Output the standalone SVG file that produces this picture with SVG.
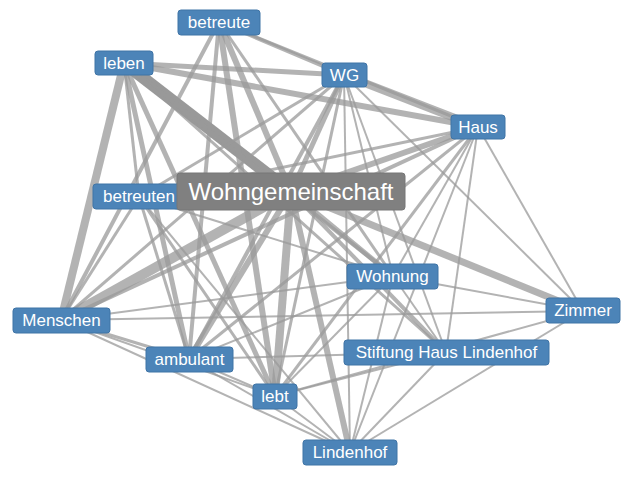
<svg xmlns="http://www.w3.org/2000/svg" width="640" height="480" viewBox="0 0 640 480">
<style>
.e{stroke:#999;stroke-opacity:.75;fill:none}
.n rect{fill:#4c84b8;stroke:#3f74a6;stroke-width:1}
.n text{fill:#fff;font-family:"Liberation Sans",Arial,sans-serif;font-size:17px;text-anchor:middle;dominant-baseline:central}
#n-wohngemeinschaft rect{fill:#808080;stroke:#777}
#n-wohngemeinschaft text{font-size:24px}
</style>
<rect width="640" height="480" fill="#fff"/>
<g id="connectors">
<line class="e" x1="124" y1="63" x2="344" y2="75" stroke-width="5"/>
<line class="e" x1="124" y1="63" x2="478" y2="127" stroke-width="6"/>
<line class="e" x1="124" y1="63" x2="291" y2="192" stroke-width="12" style="stroke:#777"/>
<line class="e" x1="124" y1="63" x2="61" y2="320" stroke-width="8"/>
<line class="e" x1="124" y1="63" x2="189" y2="359" stroke-width="5"/>
<line class="e" x1="124" y1="63" x2="275" y2="396" stroke-width="5"/>
<line class="e" x1="124" y1="63" x2="393" y2="276" stroke-width="4"/>
<line class="e" x1="124" y1="63" x2="139" y2="197" stroke-width="3"/>
<line class="e" x1="124" y1="63" x2="446" y2="352" stroke-width="3"/>
<line class="e" x1="219" y1="22" x2="344" y2="75" stroke-width="4"/>
<line class="e" x1="219" y1="22" x2="478" y2="127" stroke-width="3"/>
<line class="e" x1="219" y1="22" x2="61" y2="320" stroke-width="4"/>
<line class="e" x1="219" y1="22" x2="189" y2="359" stroke-width="4"/>
<line class="e" x1="219" y1="22" x2="275" y2="396" stroke-width="6"/>
<line class="e" x1="219" y1="22" x2="291" y2="192" stroke-width="6"/>
<line class="e" x1="219" y1="22" x2="393" y2="276" stroke-width="3"/>
<line class="e" x1="344" y1="75" x2="478" y2="127" stroke-width="8"/>
<line class="e" x1="344" y1="75" x2="291" y2="192" stroke-width="5"/>
<line class="e" x1="344" y1="75" x2="139" y2="197" stroke-width="3"/>
<line class="e" x1="344" y1="75" x2="61" y2="320" stroke-width="3"/>
<line class="e" x1="344" y1="75" x2="189" y2="359" stroke-width="4"/>
<line class="e" x1="344" y1="75" x2="275" y2="396" stroke-width="3"/>
<line class="e" x1="344" y1="75" x2="393" y2="276" stroke-width="2"/>
<line class="e" x1="344" y1="75" x2="446" y2="352" stroke-width="2"/>
<line class="e" x1="344" y1="75" x2="350" y2="452" stroke-width="2"/>
<line class="e" x1="344" y1="75" x2="583" y2="311" stroke-width="2"/>
<line class="e" x1="478" y1="127" x2="291" y2="192" stroke-width="6"/>
<line class="e" x1="478" y1="127" x2="139" y2="197" stroke-width="3"/>
<line class="e" x1="478" y1="127" x2="61" y2="320" stroke-width="4"/>
<line class="e" x1="478" y1="127" x2="189" y2="359" stroke-width="3"/>
<line class="e" x1="478" y1="127" x2="275" y2="396" stroke-width="3"/>
<line class="e" x1="478" y1="127" x2="393" y2="276" stroke-width="2"/>
<line class="e" x1="478" y1="127" x2="446" y2="352" stroke-width="2"/>
<line class="e" x1="478" y1="127" x2="350" y2="452" stroke-width="2"/>
<line class="e" x1="478" y1="127" x2="583" y2="311" stroke-width="2"/>
<line class="e" x1="291" y1="192" x2="139" y2="197" stroke-width="4"/>
<line class="e" x1="291" y1="192" x2="61" y2="320" stroke-width="10"/>
<line class="e" x1="291" y1="192" x2="189" y2="359" stroke-width="6"/>
<line class="e" x1="291" y1="192" x2="275" y2="396" stroke-width="8"/>
<line class="e" x1="291" y1="192" x2="393" y2="276" stroke-width="5"/>
<line class="e" x1="291" y1="192" x2="583" y2="311" stroke-width="7"/>
<line class="e" x1="291" y1="192" x2="446" y2="352" stroke-width="4"/>
<line class="e" x1="291" y1="192" x2="350" y2="452" stroke-width="6"/>
<line class="e" x1="139" y1="197" x2="61" y2="320" stroke-width="3"/>
<line class="e" x1="139" y1="197" x2="189" y2="359" stroke-width="3"/>
<line class="e" x1="139" y1="197" x2="275" y2="396" stroke-width="3"/>
<line class="e" x1="139" y1="197" x2="393" y2="276" stroke-width="2"/>
<line class="e" x1="139" y1="197" x2="350" y2="452" stroke-width="2"/>
<line class="e" x1="393" y1="276" x2="61" y2="320" stroke-width="2"/>
<line class="e" x1="393" y1="276" x2="189" y2="359" stroke-width="2"/>
<line class="e" x1="393" y1="276" x2="275" y2="396" stroke-width="2"/>
<line class="e" x1="393" y1="276" x2="350" y2="452" stroke-width="2"/>
<line class="e" x1="393" y1="276" x2="583" y2="311" stroke-width="2"/>
<line class="e" x1="393" y1="276" x2="446" y2="352" stroke-width="2"/>
<line class="e" x1="61" y1="320" x2="189" y2="359" stroke-width="3"/>
<line class="e" x1="61" y1="320" x2="275" y2="396" stroke-width="2"/>
<line class="e" x1="61" y1="320" x2="350" y2="452" stroke-width="2"/>
<line class="e" x1="61" y1="320" x2="583" y2="311" stroke-width="2"/>
<line class="e" x1="189" y1="359" x2="275" y2="396" stroke-width="2"/>
<line class="e" x1="189" y1="359" x2="446" y2="352" stroke-width="2"/>
<line class="e" x1="189" y1="359" x2="350" y2="452" stroke-width="2"/>
<line class="e" x1="275" y1="396" x2="446" y2="352" stroke-width="2"/>
<line class="e" x1="275" y1="396" x2="583" y2="311" stroke-width="2"/>
<line class="e" x1="275" y1="396" x2="350" y2="452" stroke-width="2"/>
<line class="e" x1="446" y1="352" x2="350" y2="452" stroke-width="2"/>
<line class="e" x1="583" y1="311" x2="350" y2="452" stroke-width="2"/>
</g>
<g id="n-betreute" class="n"><rect x="178" y="10" width="82" height="25" rx="3"/><text x="219" y="22.5">betreute</text></g>
<g id="n-leben" class="n"><rect x="95" y="51" width="58" height="24" rx="3"/><text x="124" y="63">leben</text></g>
<g id="n-wg" class="n"><rect x="322" y="63" width="45" height="24" rx="3"/><text x="344.5" y="75">WG</text></g>
<g id="n-haus" class="n"><rect x="451" y="115" width="54" height="24" rx="3"/><text x="478" y="127">Haus</text></g>
<g id="n-betreuten" class="n"><rect x="93" y="184" width="92" height="25" rx="3"/><text x="139" y="196.5">betreuten</text></g>
<g id="n-wohngemeinschaft" class="n"><rect x="177" y="173" width="228" height="37" rx="3"/><text x="291" y="191.5">Wohngemeinschaft</text></g>
<g id="n-wohnung" class="n"><rect x="347" y="264" width="91" height="25" rx="3"/><text x="392.5" y="276.5">Wohnung</text></g>
<g id="n-zimmer" class="n"><rect x="546" y="298" width="74" height="25" rx="3"/><text x="583" y="310.5">Zimmer</text></g>
<g id="n-menschen" class="n"><rect x="13" y="308" width="97" height="25" rx="3"/><text x="61.5" y="320.5">Menschen</text></g>
<g id="n-stiftung" class="n"><rect x="344" y="340" width="205" height="25" rx="3"/><text x="446.5" y="352.5">Stiftung Haus Lindenhof</text></g>
<g id="n-ambulant" class="n"><rect x="146" y="347" width="87" height="25" rx="3"/><text x="189.5" y="359.5">ambulant</text></g>
<g id="n-lebt" class="n"><rect x="253" y="384" width="44" height="25" rx="3"/><text x="275" y="396.5">lebt</text></g>
<g id="n-lindenhof" class="n"><rect x="303" y="440" width="94" height="25" rx="3"/><text x="350" y="452.5">Lindenhof</text></g>
</svg>
